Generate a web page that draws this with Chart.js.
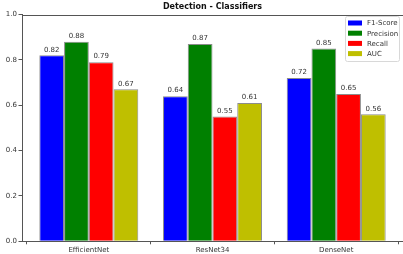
<!DOCTYPE html>
<html>
<head>
<meta charset="utf-8">
<script src="https://cdn.jsdelivr.net/npm/chart.js@4.4.0/dist/chart.umd.min.js"></script>
<style>
  html, body { margin: 0; padding: 0; background: #fff; }
  #wrap { width: 403px; height: 254px; }
</style>
</head>
<body>
<div id="wrap"><canvas id="chart" width="403" height="254"></canvas></div>
<script>
// Data
const models = ['EfficientNet', 'ResNet34', 'DenseNet'];
const f1Score = [0.82, 0.64, 0.72];
const precision = [0.88, 0.87, 0.85];
const recall = [0.79, 0.55, 0.65];
const auc = [0.67, 0.61, 0.56];
const yTicks = [0.0, 0.2, 0.4, 0.6, 0.8, 1.0];

const FONT = '"DejaVu Sans", sans-serif';

function points(values) {
    return values.map((v, i) => ({ x: i, y: v }));
}

function makeSet(label, values, color) {
    return {
        label: label,
        data: points(values),
        backgroundColor: color,
        borderColor: '#8c8c8c',
        borderWidth: 1,
        categoryPercentage: 0.8,
        barPercentage: 1.0
    };
}

// Title, legend, value labels and top spine
const extras = {
    id: 'extras',
    afterDatasetsDraw(chart) {
        const ctx = chart.ctx;
        const area = chart.chartArea;
        ctx.save();

        // value labels above bars
        ctx.font = '7px ' + FONT;
        ctx.fillStyle = '#333';
        ctx.textAlign = 'center';
        ctx.textBaseline = 'bottom';
        chart.data.datasets.forEach((ds, di) => {
            chart.getDatasetMeta(di).data.forEach((bar, i) => {
                ctx.fillText(ds.data[i].y.toFixed(2), bar.x, bar.y - 2);
            });
        });

        // top spine
        ctx.strokeStyle = '#555';
        ctx.lineWidth = 1;
        ctx.beginPath();
        ctx.moveTo(area.left, Math.round(area.top) + 0.5);
        ctx.lineTo(area.right, Math.round(area.top) + 0.5);
        ctx.stroke();

        // title
        ctx.font = 'bold 8px ' + FONT;
        ctx.fillStyle = '#111';
        ctx.textBaseline = 'middle';
        ctx.fillText('Detection - Classifiers', (area.left + area.right) / 2, 7);

        // legend box
        const lx = 345, ly = 16, lw = 54, lh = 45;
        ctx.fillStyle = 'rgba(255,255,255,0.85)';
        ctx.strokeStyle = '#d8d8d8';
        ctx.beginPath();
        ctx.roundRect(lx + 0.5, ly + 0.5, lw, lh, 2);
        ctx.fill();
        ctx.stroke();
        ctx.font = '7px ' + FONT;
        ctx.textAlign = 'left';
        chart.data.datasets.forEach((ds, i) => {
            const cy = ly + 7 + i * 10.2;
            ctx.fillStyle = ds.backgroundColor;
            ctx.fillRect(lx + 3, cy - 2.5, 14, 5);
            ctx.fillStyle = '#333';
            ctx.fillText(ds.label, lx + 22, cy + 0.5);
        });

        ctx.restore();
    }
};

new Chart(document.getElementById('chart'), {
    type: 'bar',
    data: {
        datasets: [
            makeSet('F1-Score', f1Score, '#0000ff'),
            makeSet('Precision', precision, '#008000'),
            makeSet('Recall', recall, '#ff0000'),
            makeSet('AUC', auc, '#bfbf00')
        ]
    },
    options: {
        responsive: false,
        animation: false,
        layout: { padding: { top: 14.5, right: 0, left: 0, bottom: 0 } },
        plugins: {
            legend: { display: false },
            title: { display: false },
            tooltip: { enabled: false }
        },
        scales: {
            x: {
                type: 'linear',
                min: -0.54,
                max: 2.54,
                offset: false,
                afterFit(scale) { scale.height = 12.7; },
                afterBuildTicks(scale) {
                    scale.ticks = models.map((m, i) => ({ value: i }));
                },
                grid: {
                    drawOnChartArea: false,
                    drawTicks: true,
                    tickLength: 3,
                    color: '#555'
                },
                border: { display: true, color: '#555', width: 1 },
                ticks: {
                    padding: 2,
                    maxRotation: 0,
                    autoSkip: false,
                    color: '#333',
                    font: { family: FONT, size: 7 },
                    callback: function(value) {
                        return models[value];
                    }
                }
            },
            y: {
                min: 0,
                max: 1,
                afterFit(scale) { scale.width = 22; },
                afterBuildTicks(scale) {
                    scale.ticks = yTicks.map(v => ({ value: v }));
                },
                grid: {
                    drawOnChartArea: false,
                    drawTicks: true,
                    tickLength: 3.5,
                    color: '#555'
                },
                border: { display: true, color: '#555', width: 1 },
                ticks: {
                    padding: 1.5,
                    color: '#333',
                    font: { family: FONT, size: 7 },
                    callback: function(value) {
                        return value.toFixed(1);
                    }
                }
            }
        }
    },
    plugins: [extras]
});
</script>
</body>
</html>
